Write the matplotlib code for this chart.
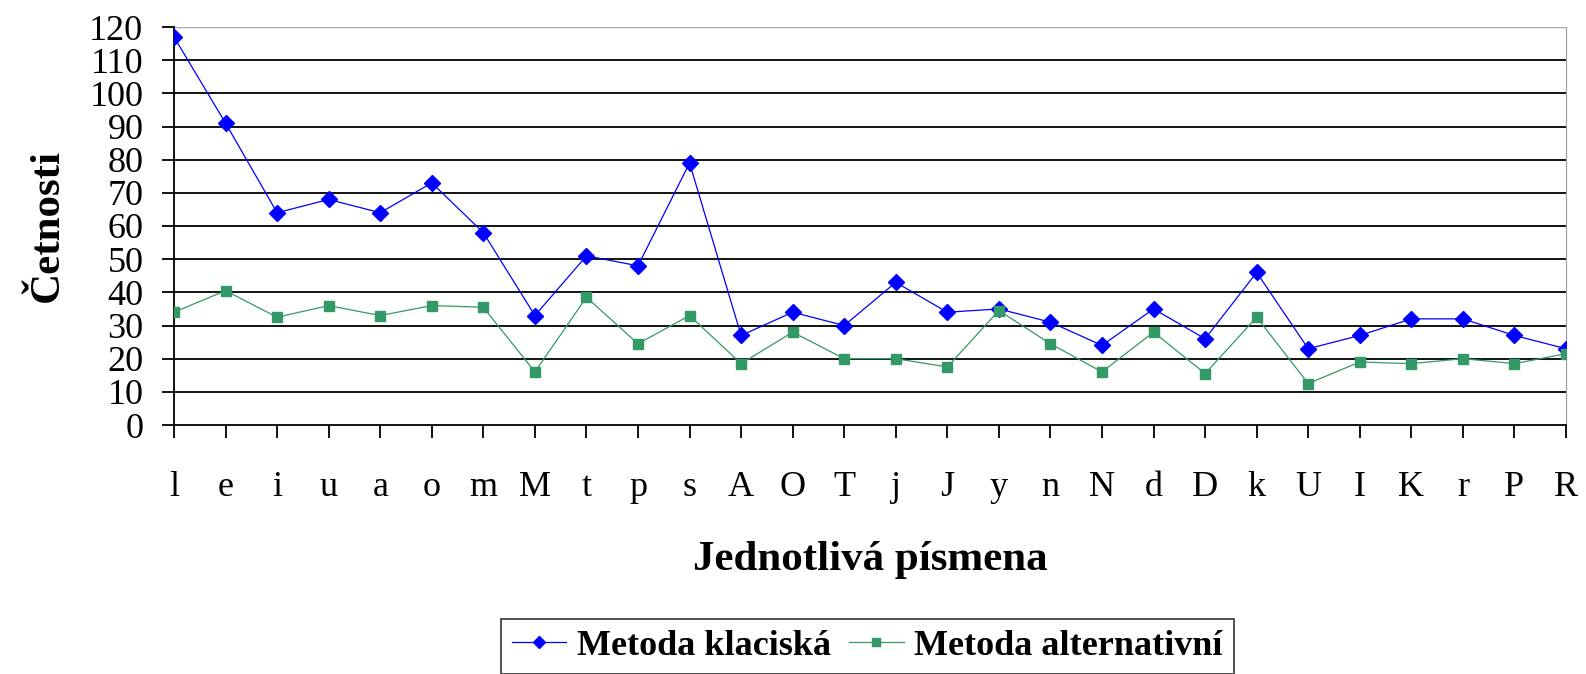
import numpy as np
import matplotlib.pyplot as plt

# Data
letters = ["l", "e", "i", "u", "a", "o", "m", "M", "t", "p", "s", "A", "O", "T",
           "j", "J", "y", "n", "N", "d", "D", "k", "U", "I", "K", "r", "P", "R"]
klasicka = [117, 91, 64, 68, 64, 73, 58, 33, 51, 48, 79, 27, 34, 30,
            43, 34, 35, 31, 24, 35, 26, 46, 23, 27, 32, 32, 27, 23]
alternativni = [34, 40.5, 32.5, 36, 33, 36, 35.5, 16, 38.5, 24.5, 33, 18.5, 28, 20,
                20, 17.5, 34.5, 24.5, 16, 28, 15.5, 32.5, 12.5, 19, 18.5, 20, 18.5, 21.5]
yticks = list(range(0, 121, 10))

plt.rcParams['font.family'] = ['Liberation Serif', 'DejaVu Serif']

fig = plt.figure(figsize=(15.86, 6.74), dpi=100)
ax = fig.add_axes([174 / 1586, 1 - 425 / 674, (1566 - 174) / 1586, (425 - 27) / 674])

x = np.arange(len(letters))

# Vodorovne mrizky
for v in yticks[1:-1]:
    ax.axhline(v, color="black", lw=1.3, zorder=1)
ax.axhline(120, color="#aaaaaa", lw=1.0, zorder=1)

ax.plot(x, klasicka, color="#0000ff", lw=0.9, marker="D", markersize=8,
        label="Metoda klaciská", zorder=3)
ax.plot(x, alternativni, color="#339966", lw=0.9, marker="s", markersize=7.5,
        label="Metoda alternativní", zorder=3)

ax.set_xlim(0, len(letters) - 1)
ax.set_ylim(0, 120)
ax.set_yticks(yticks)
ax.set_xticks(x)
ax.set_xticklabels(letters)

ax.spines["top"].set_visible(False)
ax.spines["right"].set_color("#999999")
ax.spines["left"].set_linewidth(1.3)
ax.spines["bottom"].set_linewidth(1.3)
ax.tick_params(axis="both", direction="out", length=9, width=1.3, labelsize=26)
ax.tick_params(axis="x", pad=24)
ax.tick_params(axis="y", pad=13)

ax.set_xlabel("Jednotlivá písmena", fontsize=31, fontweight="bold", labelpad=27)
ax.set_ylabel("Četnosti", fontsize=31, fontweight="bold", labelpad=16)

leg = fig.legend(loc="upper center", bbox_to_anchor=((483 + 1252) / 2 / 1586, 1 - 619 / 674),
                 ncol=2, prop={"weight": "bold", "size": 26},
                 frameon=True, fancybox=False, edgecolor="black",
                 handlelength=1.5, columnspacing=0.5, handletextpad=0.3,
                 borderpad=0.3, borderaxespad=0, markerscale=0.75)
leg.get_frame().set_linewidth(1.2)

fig.savefig("out.png", dpi=100)
